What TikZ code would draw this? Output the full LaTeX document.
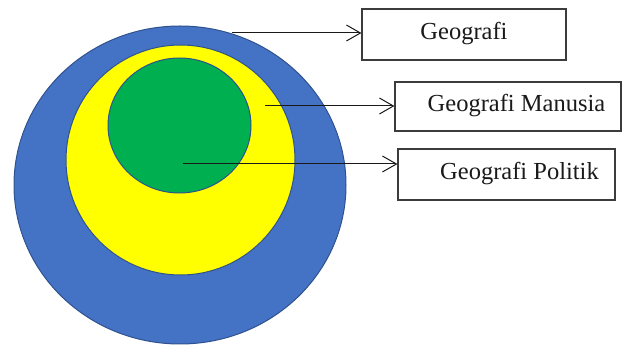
\documentclass[tikz,border=0pt]{standalone}
\usepackage{fontspec}
\setmainfont{Liberation Serif}
\usetikzlibrary{arrows.meta}

\definecolor{outerblue}{HTML}{4472C4}
\definecolor{rimblue}{HTML}{2F528F}
\definecolor{midyellow}{HTML}{FFFF00}
\definecolor{innergreen}{HTML}{00B050}
\definecolor{ink}{HTML}{1A1A1A}

\tikzset{
  region/.style={draw=rimblue, line width=1pt},
  labelbox/.style={draw=ink!85, line width=1.2pt, fill=white, rectangle, inner sep=0pt},
  labeltext/.style={font=\fontsize{24.5}{28}\selectfont, text=ink, inner sep=0pt, anchor=center},
  pointer/.style={draw=ink, line width=1pt, -{Straight Barb[length=14pt,width=16pt,line width=1pt]}}
}

\begin{document}
\begin{tikzpicture}[x=1pt, y=-1pt]
  \useasboundingbox (0,0) rectangle (627,347);

  % nested regions
  \draw[region, fill=outerblue] (180,185) ellipse [x radius=166, y radius=159];
  \draw[region, fill=midyellow] (180.5,160) ellipse [x radius=114.5, y radius=115];
  \draw[region, fill=innergreen] (179.5,125.5) ellipse [x radius=71.5, y radius=67.5];

  % label boxes
  \node[labelbox, minimum width=204pt, minimum height=51pt] (geo) at (464,34.5) {};
  \node[labeltext] (geoT) at (464,34) {Geografi};

  \node[labelbox, minimum width=226pt, minimum height=49pt] (man) at (508,106.5) {};
  \node[labeltext] (manT) at (516.5,106) {Geografi Manusia};

  \node[labelbox, minimum width=217pt, minimum height=51pt] (pol) at (506.5,174.5) {};
  \node[labeltext] (polT) at (519.5,174) {Geografi Politik};

  % pointer starts
  \coordinate (geoS) at (232,33);
  \coordinate (manS) at (265,106);
  \coordinate (polS) at (183,164);

  \draw[pointer] (geoS) -- (geoS -| geo.west);
  \draw[pointer] (manS) -- (manS -| man.west);
  \draw[pointer] (polS) -- (polS -| pol.west);
\end{tikzpicture}
\end{document}
